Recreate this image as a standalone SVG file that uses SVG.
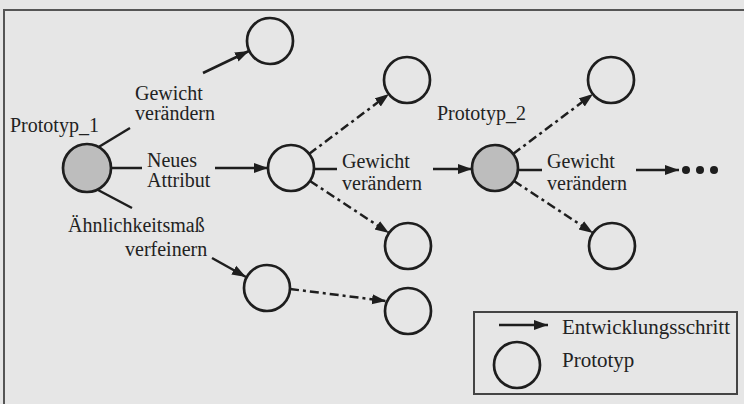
<svg xmlns="http://www.w3.org/2000/svg" width="744" height="404" viewBox="0 0 744 404">
<defs>
<marker id="ah" markerUnits="userSpaceOnUse" markerWidth="16" markerHeight="12" refX="14" refY="5.5" orient="auto">
<path d="M0,0.5 L14,5.5 L0,10.5 z" fill="#1e1e1e"/>
</marker>
<style>
.bg{fill:#e6e6e6}
.frame{fill:none;stroke:#555;stroke-width:2}
.node{fill:none;stroke:#1e1e1e;stroke-width:2.7}
.proto{fill:#bdbdbd;stroke:#1e1e1e;stroke-width:2.7}
.ln{fill:none;stroke:#1e1e1e;stroke-width:2.5}
.arr{fill:none;stroke:#1e1e1e;stroke-width:2.5;marker-end:url(#ah)}
.dash{fill:none;stroke:#1e1e1e;stroke-width:2.5;stroke-dasharray:9 4 3 4;marker-end:url(#ah)}
.t{font-family:"Liberation Serif","Times New Roman",serif;font-size:20px;fill:#222}
.lg{font-size:21px}
.dot{fill:#1e1e1e}
</style>
</defs>
<rect class="bg" x="0" y="0" width="744" height="404"/>
<path class="frame" d="M4,404 L4,10 L744,10"/>

<g id="connectors">
<line class="ln" x1="97" y1="148" x2="130" y2="128"/>
<line class="arr" x1="203" y1="73" x2="249" y2="51"/>
<line class="ln" x1="111" y1="168" x2="142" y2="168"/>
<line class="arr" x1="215" y1="168" x2="268" y2="168"/>
<line class="ln" x1="98" y1="190" x2="132" y2="208"/>
<line class="arr" x1="212" y1="258" x2="246" y2="277"/>
<line class="dash" x1="309" y1="154" x2="389" y2="94"/>
<line class="ln" x1="314" y1="169" x2="337" y2="169"/>
<line class="arr" x1="433" y1="169" x2="472" y2="169"/>
<line class="dash" x1="310" y1="181" x2="389" y2="233"/>
<line class="dash" x1="290" y1="289" x2="386" y2="301"/>
<line class="dash" x1="513" y1="154" x2="593" y2="94"/>
<line class="dash" x1="514" y1="181" x2="593" y2="233"/>
<line class="ln" x1="518" y1="170" x2="542" y2="170"/>
<line class="arr" x1="636" y1="170" x2="679" y2="170"/>
<circle class="dot" cx="686" cy="170" r="4"/>
<circle class="dot" cx="700" cy="170" r="4"/>
<circle class="dot" cx="714" cy="170" r="4"/>
</g>

<g id="labels">
<text class="t" x="135" y="100">Gewicht</text>
<text class="t" x="135" y="120">verändern</text>
<text class="t" x="147" y="167">Neues</text>
<text class="t" x="147" y="187">Attribut</text>
<text class="t" x="68" y="232">Ähnlichkeitsmaß</text>
<text class="t" x="125" y="256">verfeinern</text>
<text class="t" x="342" y="168">Gewicht</text>
<text class="t" x="342" y="190">verändern</text>
<text class="t" x="547" y="168">Gewicht</text>
<text class="t" x="547" y="190">verändern</text>
</g>

<g id="prototyp1">
<circle class="proto" cx="87" cy="168" r="24"/>
<text class="t" x="10" y="132">Prototyp_1</text>
</g>
<g id="n-top1"><circle class="node" cx="270" cy="41" r="23"/></g>
<g id="n-mid"><circle class="node" cx="291" cy="168" r="23"/></g>
<g id="n-bot"><circle class="node" cx="267" cy="288" r="23"/></g>
<g id="n-top2"><circle class="node" cx="407" cy="80" r="23"/></g>
<g id="prototyp2">
<circle class="proto" cx="495" cy="168" r="23"/>
<text class="t" x="437" y="120">Prototyp_2</text>
</g>
<g id="n-b2a"><circle class="node" cx="408" cy="246" r="23"/></g>
<g id="n-b2b"><circle class="node" cx="408" cy="311" r="23"/></g>
<g id="n-tr"><circle class="node" cx="611" cy="80" r="23"/></g>
<g id="n-br"><circle class="node" cx="612" cy="246" r="23"/></g>

<g id="legend">
<rect x="474" y="312" width="263" height="82" fill="none" stroke="#444" stroke-width="2"/>
<line class="arr" x1="499" y1="325" x2="548" y2="325"/>
<text class="t lg" x="562" y="334">Entwicklungsschritt</text>
<circle class="node" cx="517" cy="365" r="23"/>
<text class="t lg" x="562" y="367">Prototyp</text>
</g>
</svg>
